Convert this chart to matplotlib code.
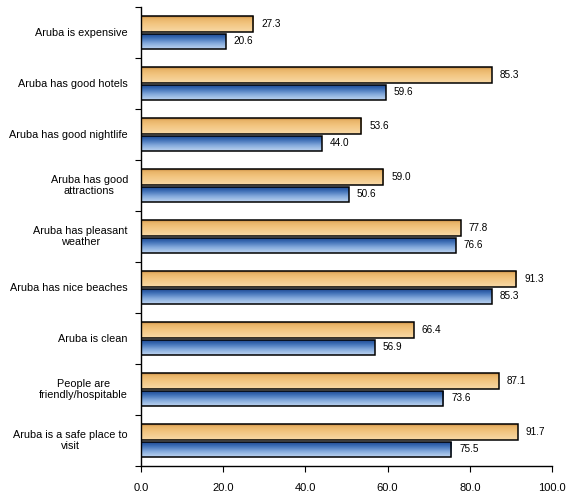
import matplotlib
matplotlib.use("Agg")
import matplotlib.pyplot as plt
import numpy as np
from matplotlib.colors import LinearSegmentedColormap
from matplotlib.transforms import blended_transform_factory, offset_copy

categories = [
    "Aruba is expensive",
    "Aruba has good hotels",
    "Aruba has good nightlife",
    "Aruba has good\nattractions",
    "Aruba has pleasant\nweather",
    "Aruba has nice beaches",
    "Aruba is clean",
    "People are\nfriendly/hospitable",
    "Aruba is a safe place to\nvisit",
]
series_orange = [27.3, 85.3, 53.6, 59.0, 77.8, 91.3, 66.4, 87.1, 91.7]
series_blue = [20.6, 59.6, 44.0, 50.6, 76.6, 85.3, 56.9, 73.6, 75.5]
xticks = [0, 20, 40, 60, 80, 100]

plt.rcParams['font.family'] = ['Liberation Sans', 'DejaVu Sans']

fig = plt.figure(figsize=(5.71, 4.92), dpi=100)
ax = fig.add_axes([0.2469, 0.0528, 0.7198, 0.9329])

n = len(categories)
y = np.arange(n)
bh = 0.295
gap = 0.04

orange_cmap = LinearSegmentedColormap.from_list(
    "o", [(0.0, "#c48a44"), (0.15, "#e9b468"), (0.45, "#f2c47e"), (1.0, "#f8d9a6")])
blue_cmap = LinearSegmentedColormap.from_list(
    "b", [(0.0, "#17408a"), (0.3, "#3e6fb6"), (0.65, "#85abdc"), (1.0, "#bed4f0")])

def grad_bar(ax, yc, w, h, cmap):
    bar = ax.barh(yc, w, height=h, color="none", edgecolor="black", linewidth=1.1, zorder=3)[0]
    grad = np.linspace(0, 1, 64).reshape(-1, 1)
    im = ax.imshow(grad, aspect="auto", cmap=cmap, interpolation="bilinear",
                   extent=[0, w, yc - h / 2, yc + h / 2], origin="lower", zorder=2)
    im.set_clip_path(bar)
    return bar

for i in range(n):
    yo = y[i] - (bh / 2 + gap / 2)
    yb = y[i] + (bh / 2 + gap / 2)
    grad_bar(ax, yo, series_orange[i], bh, orange_cmap)
    grad_bar(ax, yb, series_blue[i], bh, blue_cmap)
    ax.text(series_orange[i] + 1.9, yo, f"{series_orange[i]:.1f}", va="center", ha="left", fontsize=7.2)
    ax.text(series_blue[i] + 1.9, yb, f"{series_blue[i]:.1f}", va="center", ha="left", fontsize=7.2)

ax.set_xlim(0, 100)
ax.set_ylim(n - 0.5, -0.5)
ax.set_xticks(xticks)
ax.set_xticklabels([f"{v:.1f}" for v in xticks], fontsize=8)

ax.set_yticks(np.arange(-0.5, n + 0.5, 1.0))
ax.set_yticklabels([])
ax.tick_params(axis="y", length=4, direction="out", width=0.8)
ax.tick_params(axis="x", length=4, direction="out", width=0.8, pad=8)

trans = offset_copy(blended_transform_factory(ax.transAxes, ax.transData), fig=fig, x=-13, y=0, units="dots")
for i, c in enumerate(categories):
    ax.text(0, y[i], c, transform=trans, ha="right", va="center", multialignment="center",
            fontsize=7.8, linespacing=1.15)

for s in ["top", "right"]:
    ax.spines[s].set_visible(False)
for s in ["left", "bottom"]:
    ax.spines[s].set_linewidth(1.0)

fig.savefig("out.png", dpi=100)
